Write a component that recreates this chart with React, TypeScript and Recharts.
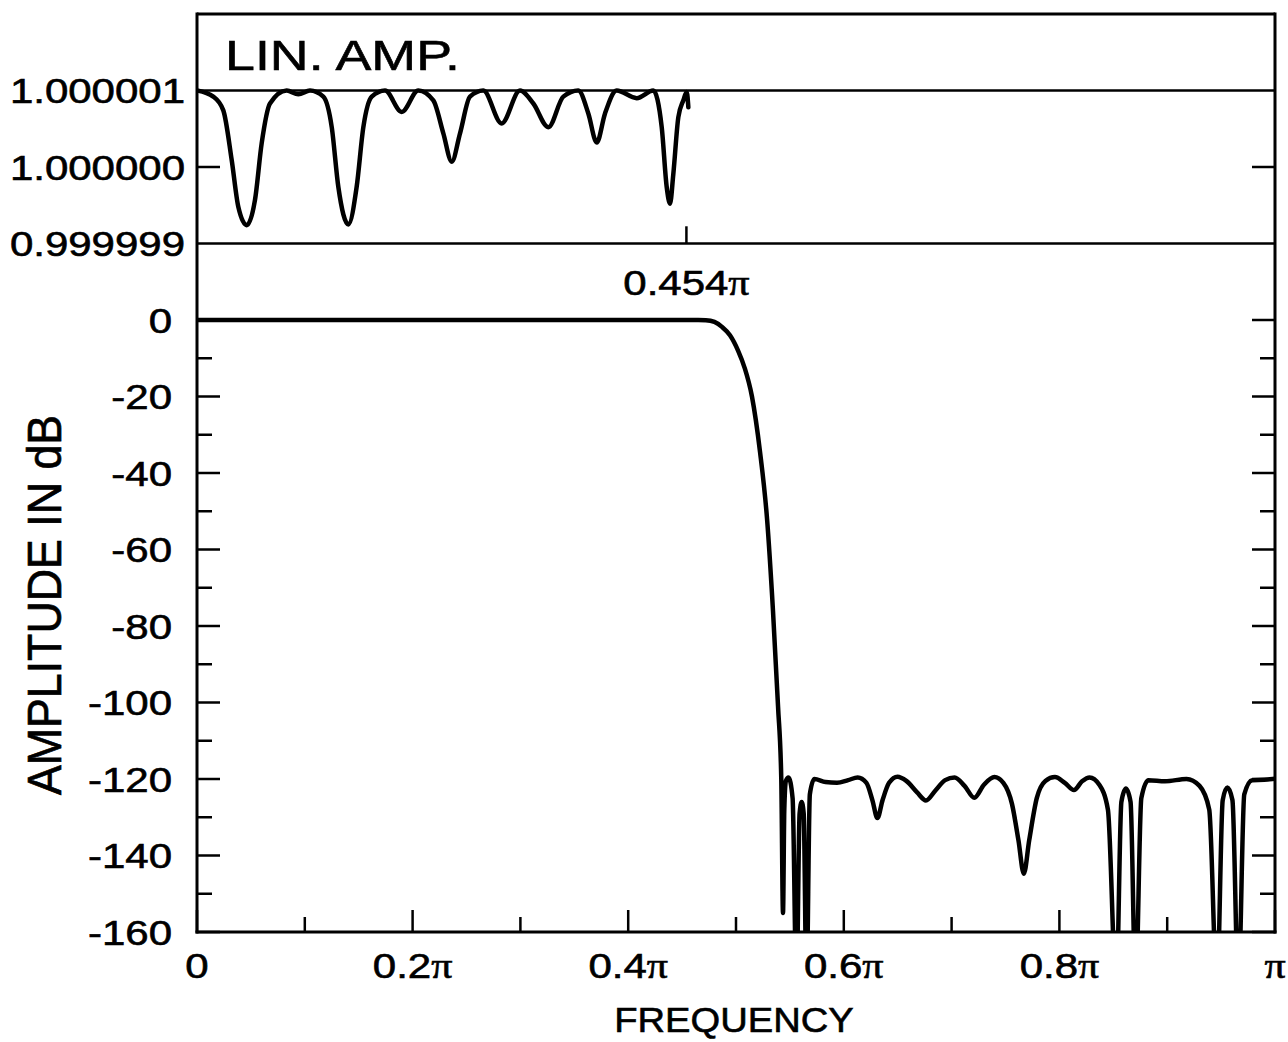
import React from 'react';
import { LineChart, Line, XAxis, YAxis, ReferenceLine, ReferenceDot } from 'recharts';

const W = 1288;
const H = 1042;
const INK = '#000';
const SANS = '"Liberation Sans", Arial, Helvetica, sans-serif';
const SERIF = '"Liberation Serif", "Times New Roman", serif';

// Frequency axis ticks, in units of π
const freqTicks = [0, 0.1, 0.2, 0.3, 0.4, 0.5, 0.6, 0.7, 0.8, 0.9, 1];
const freqTickLabels = ['0', '', '0.2π', '', '0.4π', '', '0.6π', '', '0.8π', '', 'π'];

// Vertical ticks: the dB scale runs up to 0, the linear-amplitude inset sits above it
const ampTicks = [-160, -150, -140, -130, -120, -110, -100, -90, -80, -70, -60, -50, -40, -30, -20, -10, 0, 20, 40, 60];
const ampTickLabels = ['-160', '', '-140', '', '-120', '', '-100', '', '-80', '', '-60', '', '-40', '', '-20', '', '0', '0.999999', '1.000000', '1.000001'];

// The inset shares the vertical scale: amplitude 1.000000 sits at 40, each 1e-6 spans 20
const INSET_CENTER = 40;
const INSET_GAIN = 20;
const PASSBAND_EDGE = 0.454;

// Passband ripple of the linear amplitude (deviation from 1, in units of 1e-6)
const passFreq = [0, 0.0151, 0.0244, 0.0322, 0.0383, 0.0461, 0.0538, 0.06, 0.0677, 0.0832, 0.094, 0.1048, 0.1172, 0.125, 0.1311, 0.1404, 0.1481, 0.1543, 0.1621, 0.1744, 0.1899, 0.2053, 0.2192, 0.2285, 0.2363, 0.244, 0.2532, 0.2656, 0.2826, 0.2996, 0.312, 0.3259, 0.3398, 0.3537, 0.363, 0.3708, 0.3785, 0.3893, 0.4079, 0.4233, 0.4311, 0.4357, 0.4388, 0.4418, 0.4465, 0.4511, 0.4543, 0.4558];
const passDeviation = [1.0, 0.92, 0.74, 0.09, -0.52, -0.76, -0.43, 0.31, 0.83, 1.0, 0.95, 1.0, 0.92, 0.52, -0.26, -0.75, -0.26, 0.52, 0.92, 1.0, 0.72, 1.0, 0.87, 0.44, 0.07, 0.44, 0.92, 1.0, 0.57, 1.0, 0.83, 0.52, 0.92, 1.0, 0.7, 0.32, 0.7, 1.0, 0.9, 1.0, 0.52, -0.26, -0.48, -0.1, 0.65, 0.87, 0.98, 0.78];

// Magnitude response in dB
const dbFreq = [0, 0.465, 0.472, 0.48, 0.487, 0.4944, 0.5019, 0.508, 0.5148, 0.5223, 0.5288, 0.5343, 0.539, 0.542, 0.5436, 0.5448, 0.5463, 0.5487, 0.5525, 0.5561, 0.559, 0.5609, 0.5628, 0.5654, 0.5685, 0.5727, 0.583, 0.5937, 0.604, 0.6129, 0.621, 0.6265, 0.6312, 0.636, 0.642, 0.6498, 0.658, 0.668, 0.6762, 0.685, 0.694, 0.7028, 0.712, 0.7211, 0.73, 0.7397, 0.748, 0.756, 0.762, 0.767, 0.772, 0.779, 0.787, 0.7959, 0.805, 0.8135, 0.821, 0.828, 0.837, 0.845, 0.8528, 0.8575, 0.8617, 0.866, 0.8707, 0.876, 0.8826, 0.898, 0.9179, 0.93, 0.939, 0.9462, 0.9515, 0.9558, 0.9605, 0.966, 0.9715, 0.9789, 0.99, 1.0];
const dbLevel = [0, 0, -0.05, -0.5, -1.8, -4, -8, -12.5, -20, -34.5, -52, -76, -101, -120, -155, -128, -120.5, -119.6, -125, -175, -129, -126, -129, -175, -124, -120, -120.8, -121, -120.3, -119.6, -121, -125.5, -130.2, -125.5, -121, -119.4, -120.5, -123.5, -125.6, -123, -120.3, -119.6, -121.8, -124.9, -121.5, -119.5, -121, -126.5, -136, -144.8, -136, -125, -120.5, -119.5, -121, -122.9, -120.6, -119.6, -121.5, -128, -175, -126, -122.5, -126, -175, -125, -120.3, -120.6, -120, -121.8, -128, -175, -125.5, -122.2, -125.5, -175, -124, -120.3, -120.2, -119.9];

const passData = passFreq.map((f, i) => ({ f, amp: INSET_CENTER + INSET_GAIN * passDeviation[i] }));
const dbData = dbFreq.map((f, i) => ({ f, db: dbLevel[i] }));

const MAJOR = 23;
const MINOR = 15;
const LABEL_SIZE = 35;
const LABEL_SX = 1.2;
const TEXT_WEIGHT = 0.6;

// Text drawn with a slight horizontal stretch, vertically centred on y
function WideText(props: { x: number; y: number; anchor: 'start' | 'middle' | 'end'; size: number; sx: number; children: React.ReactNode }) {
  const { x, y, anchor, size, sx, children } = props;
  return (
    <text
      transform={`translate(${x},${y + 0.358 * size}) scale(${sx},1)`}
      textAnchor={anchor}
      fontFamily={SANS}
      fontSize={size}
      fill={INK}
      stroke={INK}
      strokeWidth={TEXT_WEIGHT}
    >
      {children}
    </text>
  );
}

// Splits "0.2π" so the π comes out of a serif face
function piLabel(s: string) {
  const i = s.indexOf('π');
  if (i < 0) return s;
  return [
    <tspan key="n">{s.slice(0, i)}</tspan>,
    <tspan key="p" fontFamily={SERIF}>π</tspan>,
  ];
}

function ampTickLength(v: number) {
  if (v === 20 || v === 60) return 0;
  if (v > 0) return MAJOR;
  return v % 20 === 0 ? MAJOR : MINOR;
}

function LeftTick(props: any) {
  const { x, y, payload } = props;
  const v = payload.value as number;
  const idx = ampTicks.indexOf(v);
  const label = idx >= 0 ? ampTickLabels[idx] : '';
  const len = ampTickLength(v);
  const gap = v > 0 ? 12 : 25;
  return (
    <g>
      {len > 0 && <line x1={x} y1={y} x2={x + len} y2={y} stroke={INK} strokeWidth={2.5} />}
      {label && (
        <WideText x={x - gap} y={y} anchor="end" size={LABEL_SIZE} sx={LABEL_SX}>
          {label}
        </WideText>
      )}
    </g>
  );
}

function RightTick(props: any) {
  const { x, y, payload } = props;
  const len = ampTickLength(payload.value as number);
  if (len <= 0) return <g />;
  return <line x1={x} y1={y} x2={x - len} y2={y} stroke={INK} strokeWidth={2.5} />;
}

function FreqTick(props: any) {
  const { x, y, payload } = props;
  const idx = Math.round((payload.value as number) * 10);
  const len = idx % 2 === 0 ? MAJOR - 1 : MINOR;
  const label = freqTickLabels[idx] || '';
  return (
    <g>
      <line x1={x} y1={y} x2={x} y2={y - len} stroke={INK} strokeWidth={2.5} />
      {label && (
        <WideText x={x} y={y + 33} anchor="middle" size={LABEL_SIZE} sx={LABEL_SX}>
          {piLabel(label)}
        </WideText>
      )}
    </g>
  );
}

function FreqTitle(props: any) {
  const vb = props.viewBox || { x: 197, y: 932, width: 1078, height: 110 };
  return (
    <WideText x={vb.x + vb.width / 2 - 2} y={vb.y + 87} anchor="middle" size={35} sx={1.09}>
      FREQUENCY
    </WideText>
  );
}

function AmpTitle(props: any) {
  const vb = props.viewBox || { x: 0, y: 14, width: 197, height: 918 };
  const size = 43;
  const cx = vb.x + 44;
  const cy = vb.y + 591;
  return (
    <text
      transform={`translate(${cx},${cy}) rotate(-90) scale(1.04,1.12)`}
      y={0.358 * size}
      textAnchor="middle"
      fontFamily={SANS}
      fontSize={size}
      fill={INK}
      stroke={INK}
      strokeWidth={TEXT_WEIGHT}
    >
      AMPLITUDE IN dB
    </text>
  );
}

export default function App() {
  return (
    <div style={{ position: 'absolute', left: 0, top: 0, width: W, height: H, background: '#fff' }}>
      <LineChart width={W} height={H} margin={{ top: 14, right: 0, bottom: 0, left: 0 }}>
        <XAxis
          type="number"
          dataKey="f"
          domain={[0, 1]}
          ticks={freqTicks}
          interval={0}
          allowDataOverflow
          height={110}
          tickLine={false}
          tickSize={0}
          tickMargin={0}
          tick={<FreqTick />}
          axisLine={{ stroke: INK, strokeWidth: 3, strokeLinecap: 'square' }}
          label={<FreqTitle />}
        />
        <YAxis
          yAxisId="amp"
          type="number"
          domain={[-160, 80]}
          ticks={ampTicks}
          interval={0}
          allowDataOverflow
          width={197}
          tickLine={false}
          tickSize={0}
          tickMargin={0}
          tick={<LeftTick />}
          axisLine={{ stroke: INK, strokeWidth: 3, strokeLinecap: 'square' }}
          label={<AmpTitle />}
        />
        <YAxis
          yAxisId="ampRight"
          orientation="right"
          type="number"
          domain={[-160, 80]}
          ticks={ampTicks}
          interval={0}
          allowDataOverflow
          width={13}
          tickLine={false}
          tickSize={0}
          tickMargin={0}
          tick={<RightTick />}
          axisLine={{ stroke: INK, strokeWidth: 3, strokeLinecap: 'square' }}
        />

        {/* frame top and the inset's 1.000001 / 0.999999 rules */}
        <ReferenceLine yAxisId="amp" y={80} stroke={INK} strokeWidth={3} />
        <ReferenceLine yAxisId="amp" y={60} stroke={INK} strokeWidth={2.5} />
        <ReferenceLine yAxisId="amp" y={20} stroke={INK} strokeWidth={2.5} />
        {/* passband edge marker */}
        <ReferenceLine
          yAxisId="amp"
          segment={[{ x: PASSBAND_EDGE, y: 20 }, { x: PASSBAND_EDGE, y: 24.5 }]}
          stroke={INK}
          strokeWidth={2.5}
        />
        <ReferenceDot
          yAxisId="amp"
          x={PASSBAND_EDGE}
          y={9.7}
          r={0}
          shape={(p: any) => (
            <WideText x={p.cx} y={p.cy} anchor="middle" size={LABEL_SIZE} sx={LABEL_SX}>
              {piLabel('0.454π')}
            </WideText>
          )}
        />
        <ReferenceDot
          yAxisId="amp"
          x={0.026}
          y={69.3}
          r={0}
          shape={(p: any) => (
            <WideText x={p.cx} y={p.cy} anchor="start" size={43} sx={1.25}>
              LIN. AMP.
            </WideText>
          )}
        />

        <Line
          yAxisId="amp"
          data={dbData}
          dataKey="db"
          type="monotone"
          stroke={INK}
          strokeWidth={4.5}
          strokeLinejoin="round"
          strokeLinecap="round"
          dot={false}
          activeDot={false}
          isAnimationActive={false}
        />
        <Line
          yAxisId="amp"
          data={passData}
          dataKey="amp"
          type="monotone"
          stroke={INK}
          strokeWidth={4.5}
          strokeLinejoin="round"
          strokeLinecap="round"
          dot={false}
          activeDot={false}
          isAnimationActive={false}
        />
      </LineChart>
    </div>
  );
}
